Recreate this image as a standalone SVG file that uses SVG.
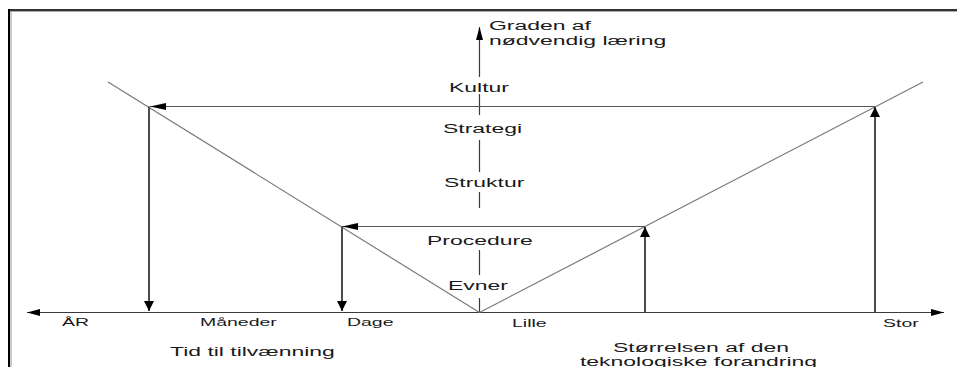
<svg xmlns="http://www.w3.org/2000/svg" width="957" height="367" viewBox="0 0 957 367">
<style>
.m{font-family:"Liberation Sans",Arial,sans-serif;font-size:13.5px;fill:#1a1a1a}
.s{font-family:"Liberation Sans",Arial,sans-serif;font-size:11px;fill:#1a1a1a}
.ax{stroke:#3a3a3a;stroke-width:1.2;fill:none}
.v{stroke:#7a7a7a;stroke-width:1.2;fill:none}
.ha{stroke:#555;stroke-width:1.2;fill:none}
.va{stroke:#4a4a4a;stroke-width:2;fill:none}
</style>
<defs>
<marker id="ah" markerUnits="userSpaceOnUse" markerWidth="13" markerHeight="7" refX="13" refY="3.5" orient="auto"><path d="M0,0 L13,3.5 L0,7 z" fill="#000"/></marker>
<marker id="hh" markerUnits="userSpaceOnUse" markerWidth="16" markerHeight="7" refX="16" refY="3.5" orient="auto"><path d="M0,0 L16,3.5 L0,7 z" fill="#000"/></marker>
<marker id="vh" markerUnits="userSpaceOnUse" markerWidth="10" markerHeight="10" refX="10" refY="5" orient="auto"><path d="M0,0 L10,5 L0,10 z" fill="#000"/></marker>
</defs>
<rect width="957" height="367" fill="#fff"/>
<g id="frame">
<line x1="8" y1="10" x2="957" y2="10" stroke="#333" stroke-width="2"/>
<line x1="10" y1="11.5" x2="957" y2="11.5" stroke="#aaa" stroke-width="1"/>
<line x1="9" y1="9" x2="9" y2="367" stroke="#000" stroke-width="2"/>
<line x1="11" y1="11" x2="11" y2="367" stroke="#aaa" stroke-width="1.2"/>
</g>
<g id="connectors">
<line class="ax" x1="479.5" y1="312.5" x2="27" y2="312.5" marker-end="url(#ah)"/>
<line class="ax" x1="479.5" y1="312.5" x2="944" y2="312.5" marker-end="url(#ah)"/>
<line class="ax" x1="479.5" y1="312" x2="479.5" y2="298"/>
<line class="ax" x1="479.5" y1="275" x2="479.5" y2="250"/>
<line class="ax" x1="479.5" y1="208" x2="479.5" y2="192"/>
<line class="ax" x1="479.5" y1="172" x2="479.5" y2="140"/>
<line class="ax" x1="479.5" y1="115" x2="479.5" y2="94"/>
<line class="ax" x1="479.5" y1="77" x2="479.5" y2="27" marker-end="url(#ah)"/>
<line class="v" x1="108" y1="82" x2="479.5" y2="312.5"/>
<line class="v" x1="479.5" y1="312.5" x2="923" y2="82"/>
<line class="ha" x1="875" y1="106.5" x2="150" y2="106.5" marker-end="url(#hh)"/>
<line class="ha" x1="645" y1="226.5" x2="342" y2="226.5" marker-end="url(#hh)"/>
<line class="va" x1="149" y1="106.5" x2="149" y2="311" marker-end="url(#vh)"/>
<line class="va" x1="342" y1="226.5" x2="342" y2="311" marker-end="url(#vh)"/>
<line class="va" x1="875" y1="312.5" x2="875" y2="107" marker-end="url(#vh)"/>
<line class="va" x1="645" y1="312.5" x2="645" y2="227" marker-end="url(#vh)"/>
</g>
<g id="y-title">
<text class="m" transform="translate(489 30) scale(1.7 1)">Graden af</text>
<text class="m" transform="translate(489 45) scale(1.7 1)">nødvendig læring</text>
</g>
<g id="kultur"><text class="m" transform="translate(449 92) scale(1.7 1)">Kultur</text></g>
<g id="strategi"><text class="m" transform="translate(443 133) scale(1.7 1)">Strategi</text></g>
<g id="struktur"><text class="m" transform="translate(444 187) scale(1.7 1)">Struktur</text></g>
<g id="procedure"><text class="m" transform="translate(427 245) scale(1.7 1)">Procedure</text></g>
<g id="evner"><text class="m" transform="translate(448 290) scale(1.7 1)">Evner</text></g>
<g id="ar"><text class="s" transform="translate(62 326) scale(1.77 1)">ÅR</text></g>
<g id="maaneder"><text class="s" transform="translate(200 326) scale(1.77 1)">Måneder</text></g>
<g id="dage"><text class="s" transform="translate(347 326) scale(1.77 1)">Dage</text></g>
<g id="lille"><text class="s" transform="translate(512 327) scale(1.77 1)">Lille</text></g>
<g id="stor"><text class="s" transform="translate(883 327) scale(1.77 1)">Stor</text></g>
<g id="x-left-title"><text class="m" transform="translate(170 356) scale(1.7 1)">Tid til tilvænning</text></g>
<g id="x-right-title">
<text class="m" transform="translate(613 352) scale(1.7 1)">Størrelsen af den</text>
<text class="m" transform="translate(580 366) scale(1.7 1)">teknologiske forandring</text>
</g>
</svg>
